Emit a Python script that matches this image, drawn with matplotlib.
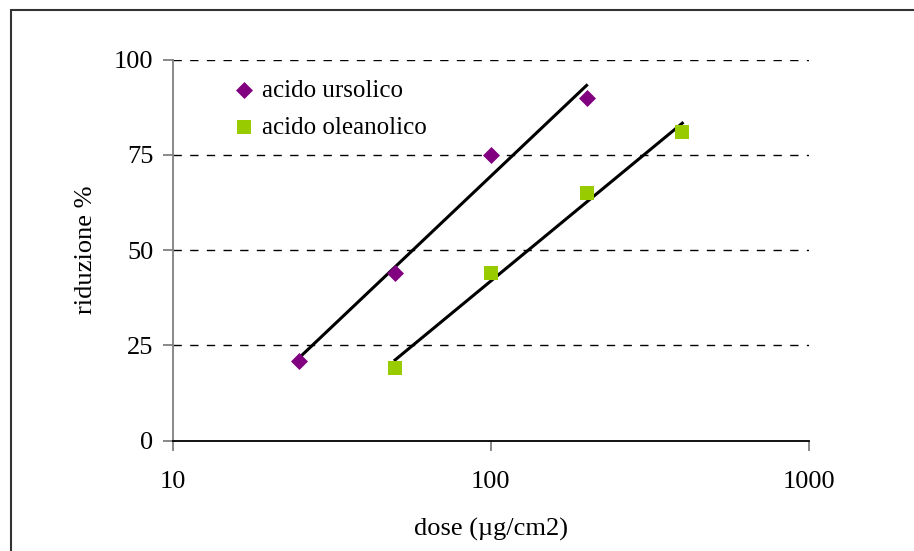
import matplotlib
matplotlib.use('Agg')
import matplotlib.pyplot as plt
import matplotlib.patches as patches
import numpy as np

# data
dose_urs = [25, 50, 100, 200]
rid_urs = [21, 44, 75, 90]
dose_ole = [50, 100, 200, 400]
rid_ole = [19, 44, 65, 81]
y_ticks = [0, 25, 50, 75, 100]
x_ticks = [10, 100, 1000]

plt.rcParams['font.family'] = ['Liberation Serif', 'DejaVu Serif']

fig = plt.figure(figsize=(9.14, 5.51), dpi=100)
fig.patch.set_facecolor('white')
ax = fig.add_axes([0.189, 0.2, 0.696, 0.692])

# outer chart frame (extends past right/bottom edges)
frame = patches.Rectangle((11 / 914, -0.05), 1.2, 1 - 10 / 551 + 0.05,
                          transform=fig.transFigure, fill=False,
                          edgecolor='#333333', linewidth=1.5, clip_on=False)
fig.patches.append(frame)

# log trend lines
for xs, ys in [(dose_urs, rid_urs), (dose_ole, rid_ole)]:
    k, b = np.polyfit(np.log10(xs), ys, 1)
    xx = np.logspace(np.log10(xs[0]), np.log10(xs[-1]), 50)
    ax.plot(xx, k * np.log10(xx) + b, color='black', lw=2.2, zorder=3)

ax.scatter(dose_urs, rid_urs, marker='D', s=75, color='#800080',
           label='acido ursolico', zorder=4, linewidths=0)
ax.scatter(dose_ole, rid_ole, marker='s', s=110, color='#99CC00',
           label='acido oleanolico', zorder=4, linewidths=0)

ax.set_xscale('log')
ax.set_xlim(10, 1000)
ax.set_ylim(0, 100)
ax.set_xticks(x_ticks)
ax.set_xticklabels([str(t) for t in x_ticks])
ax.xaxis.set_minor_locator(plt.NullLocator())
ax.set_yticks(y_ticks)

for yv in y_ticks[1:]:
    ax.axhline(yv, color='black', lw=1, ls=(0, (6, 6)), zorder=1)

for s in ['top', 'right']:
    ax.spines[s].set_visible(False)
ax.spines['left'].set_color('#808080')
ax.spines['left'].set_linewidth(1.3)
ax.spines['bottom'].set_color('black')
ax.spines['bottom'].set_linewidth(1.3)

ax.tick_params(axis='both', colors='#808080', labelcolor='black',
               labelsize=19, length=7, width=1.3)
ax.tick_params(axis='y', pad=7)
ax.tick_params(axis='x', pad=15)

ax.set_xlabel('dose (µg/cm2)', fontsize=19, labelpad=18)
ax.set_ylabel('riduzione %', fontsize=19, labelpad=12)

ax.legend(loc='upper left', bbox_to_anchor=(0.072, 0.975), frameon=False,
          fontsize=18, handletextpad=0.15, labelspacing=0.6,
          borderaxespad=0, handlelength=1.2)

fig.savefig('out.png', dpi=100, facecolor='white')
